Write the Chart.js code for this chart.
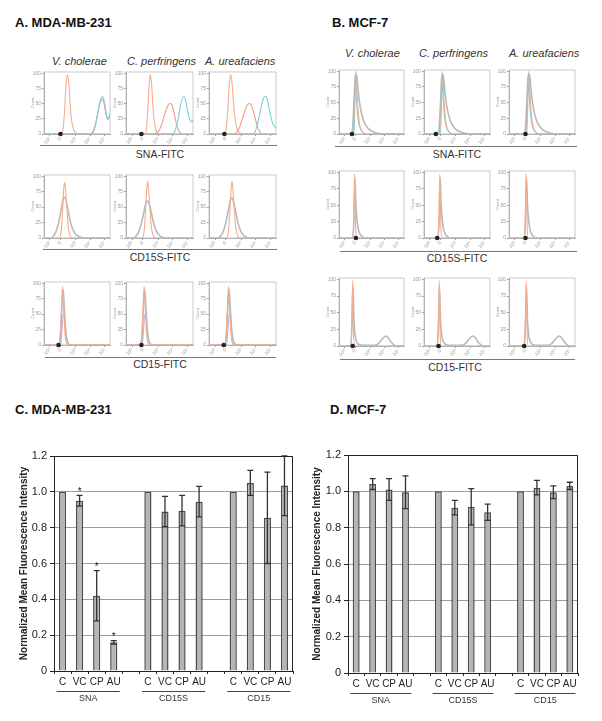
<!DOCTYPE html>
<html>
<head>
<meta charset="utf-8">
<script src="https://cdn.jsdelivr.net/npm/chart.js@4.4.1/dist/chart.umd.min.js"></script>
<style>
  html, body { margin: 0; padding: 0; background: #fff; }
  body { width: 602px; height: 721px; position: relative; overflow: hidden;
         font-family: "Liberation Sans", Arial, sans-serif; color: #222; }
  .abs { position: absolute; line-height: 1; white-space: nowrap; }
  .ttl { font-weight: bold; font-size: 13px; color: #111; }
  .sp { font-style: italic; font-size: 11px; color: #333; }
  .rl { font-size: 10.5px; color: #333; transform: translateX(-50%); }
  .hr { height: 0; border-top: 1.5px solid #777; }
  canvas { position: absolute; }
</style>
</head>
<body>
<div class="abs ttl" style="left:15px;top:16px">A. MDA-MB-231</div>
<div class="abs ttl" style="left:332px;top:16px">B. MCF-7</div>
<div class="abs ttl" style="left:15px;top:403px">C. MDA-MB-231</div>
<div class="abs ttl" style="left:330px;top:403px">D. MCF-7</div>

<div class="abs sp" style="left:52px;top:56px">V. cholerae</div>
<div class="abs sp" style="left:127px;top:56px">C. perfringens</div>
<div class="abs sp" style="left:205px;top:56px">A. ureafaciens</div>
<div class="abs sp" style="left:345px;top:48px">V. cholerae</div>
<div class="abs sp" style="left:419px;top:48px">C. perfringens</div>
<div class="abs sp" style="left:509px;top:48px">A. ureafaciens</div>

<div class="abs hr" style="left:40px;top:145px;width:237px"></div>
<div class="abs hr" style="left:43px;top:249px;width:234px"></div>
<div class="abs hr" style="left:45px;top:357px;width:231px"></div>
<div class="abs hr" style="left:335px;top:146px;width:242px"></div>
<div class="abs hr" style="left:340px;top:251px;width:237px"></div>
<div class="abs hr" style="left:340px;top:359px;width:235px"></div>

<div class="abs rl" style="left:160px;top:149px">SNA-FITC</div>
<div class="abs rl" style="left:160px;top:252px">CD15S-FITC</div>
<div class="abs rl" style="left:160px;top:359px">CD15-FITC</div>
<div class="abs rl" style="left:457px;top:149px">SNA-FITC</div>
<div class="abs rl" style="left:457px;top:253px">CD15S-FITC</div>
<div class="abs rl" style="left:455px;top:362px">CD15-FITC</div>

<script>
// ---- histogram axes (display position 0..100 of the biexponential axis) ----
const HIST_XTICKS = [9, 25, 48, 70, 92];
const HIST_XLABELS = ['-10³', '0', '10³', '10⁴', '10⁵'];
const HIST_YTICKS = [0, 0.25, 0.5, 0.75, 1];
const HIST_YLABELS = ['0', '25', '50', '75', '100'];

// ---- A. MDA-MB-231, SNA-FITC ----
const A_SNA_VC_ISO = [[0,0],[27,0],[29,0.1],[31,0.35],[33,0.75],[35,0.97],[37,0.9],[39,0.6],[41,0.3],[44,0.1],[48,0.02],[52,0],[100,0]];
const A_SNA_VC_TRT = [[0,0],[72,0],[76,0.07],[80,0.26],[84,0.48],[88,0.57],[91,0.5],[94,0.32],[97,0.24],[100,0.32]];
const A_SNA_VC_UNT = [[0,0],[70,0],[74,0.04],[78,0.15],[82,0.38],[86,0.58],[89,0.61],[92,0.5],[95,0.3],[97,0.24],[100,0.35]];
const A_SNA_CP_ISO = [[0,0],[29,0],[31,0.15],[33,0.5],[35,0.88],[36.5,0.98],[38,0.85],[40,0.5],[42,0.22],[45,0.06],[49,0],[100,0]];
const A_SNA_CP_TRT = [[0,0],[44,0],[48,0.04],[52,0.12],[56,0.26],[60,0.4],[64,0.49],[67,0.5],[70,0.43],[73,0.28],[76,0.13],[80,0.03],[84,0],[100,0]];
const A_SNA_CP_UNT = [[0,0],[70,0],[74,0.08],[78,0.26],[82,0.5],[86,0.62],[89,0.55],[92,0.38],[95,0.24],[98,0.2],[100,0.24]];
const A_SNA_AU_ISO = [[0,0],[24,0],[26,0.12],[28,0.4],[30,0.78],[32,0.98],[34,0.88],[36,0.6],[38,0.33],[41,0.12],[45,0.03],[50,0],[100,0]];
const A_SNA_AU_TRT = [[0,0],[38,0],[42,0.04],[46,0.12],[50,0.26],[54,0.4],[58,0.49],[61,0.5],[64,0.45],[68,0.3],[72,0.13],[76,0.03],[80,0],[100,0]];
const A_SNA_AU_UNT = [[0,0],[66,0],[70,0.07],[74,0.24],[78,0.45],[82,0.6],[85,0.62],[88,0.52],[92,0.3],[96,0.15],[100,0.1]];

// ---- A. MDA-MB-231, CD15S-FITC ----
const A_CD15S_VC_ISO = [[0,0],[23,0],[26,0.1],[28,0.4],[30,0.8],[31.5,0.9],[33,0.75],[35,0.42],[37,0.16],[40,0.03],[44,0],[100,0]];
const A_CD15S_VC_TRT = [[0,0],[10,0],[14,0.03],[18,0.1],[22,0.24],[26,0.46],[29,0.63],[31,0.66],[34,0.58],[37,0.42],[40,0.26],[44,0.13],[48,0.06],[54,0.02],[60,0],[100,0]];
const A_CD15S_CP_ISO = [[0,0],[24,0],[27,0.1],[29,0.4],[31,0.8],[32.5,0.92],[34,0.75],[36,0.42],[38,0.16],[41,0.03],[45,0],[100,0]];
const A_CD15S_CP_TRT = [[0,0],[11,0],[15,0.03],[19,0.1],[23,0.24],[27,0.44],[30,0.58],[32,0.6],[35,0.54],[38,0.4],[41,0.25],[45,0.12],[49,0.05],[55,0.01],[60,0],[100,0]];
const A_CD15S_AU_ISO = [[0,0],[26,0],[29,0.1],[31,0.4],[33,0.8],[34.5,0.92],[36,0.75],[38,0.42],[40,0.16],[43,0.03],[47,0],[100,0]];
const A_CD15S_AU_TRT = [[0,0],[13,0],[17,0.03],[21,0.1],[25,0.24],[29,0.46],[32,0.62],[34,0.65],[37,0.57],[40,0.42],[43,0.26],[47,0.12],[51,0.05],[57,0.01],[62,0],[100,0]];

// ---- A. MDA-MB-231, CD15-FITC ----
const A_CD15_VC_ISO = [[0,0],[22,0],[24,0.1],[26,0.5],[28,0.95],[30,0.55],[32,0.15],[34,0.03],[36,0],[100,0]];
const A_CD15_VC_TRT = [[0,0],[23,0],[25,0.15],[27,0.6],[29,0.9],[31,0.55],[33,0.22],[35,0.07],[38,0.01],[42,0],[100,0]];
const A_CD15_VC_UNT = [[0,0],[25,0],[27,0.2],[29,0.5],[31,0.45],[33,0.22],[35,0.08],[38,0.02],[42,0],[100,0]];
const A_CD15_CP_ISO = [[0,0],[21,0],[23,0.1],[25,0.5],[27,0.95],[29,0.55],[31,0.15],[33,0.03],[35,0],[100,0]];
const A_CD15_CP_TRT = [[0,0],[22,0],[24,0.15],[26,0.6],[28,0.9],[30,0.55],[32,0.22],[34,0.07],[37,0.01],[41,0],[100,0]];
const A_CD15_CP_UNT = [[0,0],[24,0],[26,0.2],[28,0.5],[30,0.45],[32,0.22],[34,0.08],[37,0.02],[41,0],[100,0]];
const A_CD15_AU_ISO = [[0,0],[23,0],[25,0.1],[27,0.5],[29,0.95],[31,0.55],[33,0.15],[35,0.03],[37,0],[100,0]];
const A_CD15_AU_TRT = [[0,0],[24,0],[26,0.15],[28,0.6],[30,0.9],[32,0.55],[34,0.22],[36,0.07],[39,0.01],[43,0],[100,0]];
const A_CD15_AU_UNT = [[0,0],[26,0],[28,0.2],[30,0.5],[32,0.45],[34,0.22],[36,0.08],[39,0.02],[43,0],[100,0]];

// ---- B. MCF-7, SNA-FITC ----
const B_SNA_VC_ISO = [[0,0],[21,0],[23,0.25],[25,0.8],[26.5,0.95],[28,0.6],[30,0.3],[32,0.14],[35,0.05],[39,0.01],[44,0],[100,0]];
const B_SNA_VC_TRT = [[0,0],[19,0],[21,0.1],[23,0.5],[25,0.92],[27,0.95],[29,0.75],[31,0.55],[34,0.36],[37,0.24],[40,0.16],[44,0.1],[48,0.06],[54,0.03],[60,0.01],[66,0],[100,0]];
const B_SNA_VC_UNT = [[0,0],[23,0],[24.5,0.5],[25.5,1.0],[26.5,0.7],[28,0.4],[30,0.2],[33,0.08],[37,0.02],[42,0],[100,0]];
const B_SNA_CP_ISO = [[0,0],[23,0],[25,0.25],[27,0.8],[28.5,0.95],[30,0.6],[32,0.3],[34,0.14],[37,0.05],[41,0.01],[46,0],[100,0]];
const B_SNA_CP_TRT = [[0,0],[21,0],[23,0.1],[25,0.5],[27,0.92],[29,0.95],[31,0.75],[33,0.55],[36,0.36],[39,0.24],[42,0.16],[46,0.1],[50,0.06],[56,0.03],[62,0.01],[68,0],[100,0]];
const B_SNA_CP_UNT = [[0,0],[25,0],[26.5,0.5],[27.5,1.0],[28.5,0.7],[30,0.4],[32,0.2],[35,0.08],[39,0.02],[44,0],[100,0]];
const B_SNA_AU_ISO = [[0,0],[25,0],[27,0.25],[29,0.8],[30.5,0.95],[32,0.6],[34,0.3],[36,0.14],[39,0.05],[43,0.01],[48,0],[100,0]];
const B_SNA_AU_TRT = [[0,0],[23,0],[25,0.1],[27,0.5],[29,0.92],[31,0.95],[33,0.75],[35,0.55],[38,0.36],[41,0.24],[44,0.16],[48,0.1],[52,0.06],[58,0.03],[64,0.01],[70,0],[100,0]];
const B_SNA_AU_UNT = [[0,0],[27,0],[28.5,0.5],[29.5,1.0],[30.5,0.7],[32,0.4],[34,0.2],[37,0.08],[41,0.02],[46,0],[100,0]];

// ---- B. MCF-7, CD15S-FITC ----
const B_CD15S_VC_ISO = [[0,0],[21,0],[22.5,0.2],[24,0.98],[25.5,0.2],[27,0],[100,0]];
const B_CD15S_VC_TRT = [[0,0],[21,0],[23,0.3],[24.5,0.92],[26,0.5],[28,0.25],[30,0.12],[33,0.05],[37,0.01],[40,0],[100,0]];
const B_CD15S_CP_ISO = [[0,0],[21,0],[22.5,0.2],[24,0.98],[25.5,0.2],[27,0],[100,0]];
const B_CD15S_CP_TRT = [[0,0],[21,0],[23,0.3],[24.5,0.92],[26,0.5],[28,0.25],[30,0.12],[33,0.05],[37,0.01],[40,0],[100,0]];
const B_CD15S_AU_ISO = [[0,0],[23,0],[24.5,0.2],[26,0.98],[27.5,0.2],[29,0],[100,0]];
const B_CD15S_AU_TRT = [[0,0],[23,0],[25,0.3],[26.5,0.92],[28,0.5],[30,0.25],[32,0.12],[35,0.05],[39,0.01],[42,0],[100,0]];

// ---- B. MCF-7, CD15-FITC ----
const B_CD15_VC_ISO = [[0,0],[18,0],[19.5,0.2],[21,0.98],[22.5,0.2],[24,0],[100,0]];
const B_CD15_VC_TRT = [[0,0],[18,0],[20,0.35],[21.5,0.9],[23,0.4],[25,0.15],[28,0.05],[32,0.02],[40,0.01],[50,0.01],[58,0.02],[62,0.05],[66,0.1],[70,0.14],[73,0.15],[76,0.12],[80,0.06],[84,0.02],[88,0],[100,0]];
const B_CD15_CP_ISO = [[0,0],[20,0],[21.5,0.2],[23,0.98],[24.5,0.2],[26,0],[100,0]];
const B_CD15_CP_TRT = [[0,0],[20,0],[22,0.35],[23.5,0.9],[25,0.4],[27,0.15],[30,0.05],[34,0.02],[42,0.01],[52,0.01],[60,0.02],[64,0.05],[68,0.1],[72,0.14],[75,0.15],[78,0.12],[82,0.06],[86,0.02],[90,0],[100,0]];
const B_CD15_AU_ISO = [[0,0],[23,0],[24.5,0.2],[26,0.98],[27.5,0.2],[29,0],[100,0]];
const B_CD15_AU_TRT = [[0,0],[23,0],[25,0.35],[26.5,0.9],[28,0.4],[30,0.15],[33,0.05],[37,0.02],[45,0.01],[55,0.01],[62,0.02],[66,0.05],[70,0.1],[74,0.14],[77,0.15],[80,0.12],[84,0.06],[88,0.02],[92,0],[100,0]];

// position of the "0" marker on each histogram axis
const A_ZERO = [[25, 23, 23], [null, null, null], [22, 23, 22]];
const B_ZERO = [[20, 18, 25], [26, 20, 25], [21, 22, 23]];

// ---- bar charts (C, D) ----
const BAR_LABELS = ['C', 'VC', 'CP', 'AU', '', 'C', 'VC', 'CP', 'AU', '', 'C', 'VC', 'CP', 'AU'];
const GROUP_NAMES = ['SNA', 'CD15S', 'CD15'];
const GROUP_SPANS = [[0, 3], [5, 8], [10, 13]];
const C_MEAN = [1, 0.95, 0.42, 0.16, null, 1, 0.89, 0.895, 0.945, null, 1, 1.05, 0.855, 1.035];
const C_ERR  = [0, 0.03, 0.14, 0.01, null, 0, 0.085, 0.085, 0.085, null, 0, 0.07, 0.255, 0.168];
const C_SIG  = [false, true, true, true, false, false, false, false, false, false, false, false, false, false];
const D_MEAN = [1, 1.04, 1.01, 0.995, null, 1, 0.91, 0.915, 0.885, null, 1, 1.02, 0.995, 1.03];
const D_ERR  = [0, 0.03, 0.06, 0.09, null, 0, 0.04, 0.1, 0.045, null, 0, 0.04, 0.035, 0.02];
const D_SIG  = [false, false, false, false, false, false, false, false, false, false, false, false, false, false];

// ---- layout ----
const A_COLS = [[44, 110], [126, 193], [209, 276]];
const A_ROWS = [[72, 134], [175, 238], [282, 345]];
const B_COLS = [[339, 404], [424, 490], [509, 575]];
const B_ROWS = [[70, 134], [171, 238], [278, 346]];

// first key is drawn on top
const A_GRID = [
  [{ unt: A_SNA_VC_UNT, iso: A_SNA_VC_ISO, sal: A_SNA_VC_TRT },
   { unt: A_SNA_CP_UNT, iso: A_SNA_CP_ISO, sal: A_SNA_CP_TRT },
   { unt: A_SNA_AU_UNT, iso: A_SNA_AU_ISO, sal: A_SNA_AU_TRT }],
  [{ iso: A_CD15S_VC_ISO, gray: A_CD15S_VC_TRT },
   { iso: A_CD15S_CP_ISO, gray: A_CD15S_CP_TRT },
   { iso: A_CD15S_AU_ISO, gray: A_CD15S_AU_TRT }],
  [{ iso: A_CD15_VC_ISO, gray: A_CD15_VC_TRT, lav: A_CD15_VC_UNT },
   { iso: A_CD15_CP_ISO, gray: A_CD15_CP_TRT, lav: A_CD15_CP_UNT },
   { iso: A_CD15_AU_ISO, gray: A_CD15_AU_TRT, lav: A_CD15_AU_UNT }]
];
const B_GRID = [
  [{ gray: B_SNA_VC_TRT, iso: B_SNA_VC_ISO, unt: B_SNA_VC_UNT },
   { gray: B_SNA_CP_TRT, iso: B_SNA_CP_ISO, unt: B_SNA_CP_UNT },
   { gray: B_SNA_AU_TRT, iso: B_SNA_AU_ISO, unt: B_SNA_AU_UNT }],
  [{ iso: B_CD15S_VC_ISO, gray: B_CD15S_VC_TRT },
   { iso: B_CD15S_CP_ISO, gray: B_CD15S_CP_TRT },
   { iso: B_CD15S_AU_ISO, gray: B_CD15S_AU_TRT }],
  [{ iso: B_CD15_VC_ISO, gray: B_CD15_VC_TRT },
   { iso: B_CD15_CP_ISO, gray: B_CD15_CP_TRT },
   { iso: B_CD15_AU_ISO, gray: B_CD15_AU_TRT }]
];

const HIST_COLORS = { iso: '#f5ad8c', sal: '#f29a8c', unt: '#79cfdb', gray: '#b9b9b9', lav: '#b9b3e0' };
const HIST_WIDTHS = { iso: 1.1, sal: 1.1, unt: 1.1, gray: 1.6, lav: 1.1 };

Chart.defaults.font.family = '"Liberation Sans", Arial, sans-serif';

const histFrame = {
  id: 'histFrame',
  beforeDatasetsDraw(chart) {
    const { ctx, chartArea: a } = chart;
    ctx.save();
    ctx.strokeStyle = '#bdbdbd';
    ctx.lineWidth = 0.8;
    ctx.strokeRect(a.left, a.top, a.right - a.left, a.bottom - a.top);
    ctx.restore();
  }
};

function drawHist(xr, yr, curves, zeroX) {
  const cv = document.createElement('canvas');
  cv.width = xr[1] - xr[0] + 18;
  cv.height = yr[1] - yr[0] + 14;
  cv.style.left = (xr[0] - 14) + 'px';
  cv.style.top = (yr[0] - 4) + 'px';
  document.body.appendChild(cv);

  const datasets = Object.keys(curves).map(k => ({
    data: curves[k], borderColor: HIST_COLORS[k], borderWidth: HIST_WIDTHS[k],
    pointRadius: 0, cubicInterpolationMode: 'monotone', fill: false
  }));
  if (zeroX != null) {
    datasets.unshift({ type: 'scatter', data: [{ x: zeroX, y: 0 }], pointRadius: 2.3,
      backgroundColor: '#222', borderWidth: 0, clip: false });
  }

  new Chart(cv, {
    type: 'line',
    data: { datasets },
    options: {
      responsive: false, animation: false, devicePixelRatio: 1,
      layout: { padding: { left: 0, top: 4, right: 4, bottom: 0 } },
      plugins: { legend: { display: false }, tooltip: { enabled: false } },
      scales: {
        x: {
          type: 'linear', min: 0, max: 100,
          afterFit: s => { s.height = 10; },
          afterBuildTicks: s => { s.ticks = HIST_XTICKS.map(v => ({ value: v })); },
          grid: { drawOnChartArea: false, tickLength: 2, color: '#999' },
          border: { color: '#aaa' },
          ticks: { font: { size: 5 }, color: '#999', padding: 0, maxRotation: 45, minRotation: 45,
                   autoSkip: false, callback: (v, i) => HIST_XLABELS[i] }
        },
        y: {
          min: 0, max: 1.02,
          afterFit: s => { s.width = 14; },
          afterBuildTicks: s => { s.ticks = HIST_YTICKS.map(v => ({ value: v })); },
          grid: { drawOnChartArea: false, tickLength: 2, color: '#999' },
          border: { color: '#aaa' },
          ticks: { font: { size: 5 }, color: '#999', padding: 1, autoSkip: false,
                   callback: (v, i) => HIST_YLABELS[i] },
          title: { display: true, text: 'Count', font: { size: 4 }, color: '#999', padding: 0 }
        }
      }
    },
    plugins: [histFrame]
  });
}

A_GRID.forEach((row, r) => row.forEach((c, k) => drawHist(A_COLS[k], A_ROWS[r], c, A_ZERO[r][k])));
B_GRID.forEach((row, r) => row.forEach((c, k) => drawHist(B_COLS[k], B_ROWS[r], c, B_ZERO[r][k])));

// ---- bar chart plugins ----
const errorBars = {
  id: 'errorBars',
  afterDatasetsDraw(chart, args, opts) {
    const { ctx, scales: { x, y } } = chart;
    const vals = chart.data.datasets[0].data;
    ctx.save();
    ctx.strokeStyle = '#333';
    ctx.fillStyle = '#222';
    ctx.lineWidth = 1.3;
    ctx.font = '10px "Liberation Sans", Arial, sans-serif';
    ctx.textAlign = 'center';
    ctx.textBaseline = 'bottom';
    opts.err.forEach((e, i) => {
      const m = vals[i];
      if (m == null) return;
      const px = x.getPixelForValue(i);
      const hi = Math.max(y.getPixelForValue(m + e), chart.chartArea.top);
      const lo = y.getPixelForValue(m - e);
      if (e > 0) {
        ctx.beginPath();
        ctx.moveTo(px, hi); ctx.lineTo(px, lo);
        ctx.moveTo(px - 3, hi); ctx.lineTo(px + 3, hi);
        ctx.moveTo(px - 3, lo); ctx.lineTo(px + 3, lo);
        ctx.stroke();
      }
      if (opts.sig[i]) ctx.fillText('*', px, hi + 2);
    });
    ctx.restore();
  }
};

const barFrame = {
  id: 'barFrame',
  afterDraw(chart) {
    const { ctx, chartArea: a } = chart;
    ctx.save();
    ctx.strokeStyle = '#222';
    ctx.lineWidth = 1;
    ctx.beginPath();
    ctx.moveTo(a.left, a.top + 0.5);
    ctx.lineTo(a.right - 0.5, a.top + 0.5);
    ctx.lineTo(a.right - 0.5, a.bottom);
    ctx.stroke();
    ctx.restore();
  }
};

// group underline and group name below the category labels
const groupLabels = {
  id: 'groupLabels',
  afterDraw(chart) {
    const { ctx, scales: { x } } = chart;
    const slot = x.getPixelForValue(1) - x.getPixelForValue(0);
    const yLine = x.bottom + 1.5;
    ctx.save();
    ctx.strokeStyle = '#444';
    ctx.fillStyle = '#333';
    ctx.lineWidth = 1.2;
    ctx.font = '9px "Liberation Sans", Arial, sans-serif';
    ctx.textAlign = 'center';
    ctx.textBaseline = 'top';
    GROUP_SPANS.forEach(([a, b], g) => {
      const x0 = x.getPixelForValue(a) - slot * 0.35;
      const x1 = x.getPixelForValue(b) + slot * 0.35;
      ctx.beginPath();
      ctx.moveTo(x0, yLine);
      ctx.lineTo(x1, yLine);
      ctx.stroke();
      ctx.fillText(GROUP_NAMES[g], (x.getPixelForValue(a) + x.getPixelForValue(b)) / 2, yLine + 2.5);
    });
    ctx.restore();
  }
};

function drawBars(left, width, pad, yw, means, errs, sig) {
  const cv = document.createElement('canvas');
  cv.width = width;
  cv.height = 281;
  cv.style.left = left + 'px';
  cv.style.top = '440px';
  document.body.appendChild(cv);

  new Chart(cv, {
    type: 'bar',
    data: {
      labels: BAR_LABELS,
      datasets: [{ data: means, backgroundColor: '#b5b5b5', borderColor: '#4a4a4a', borderWidth: 1.5,
                   barPercentage: 0.42, categoryPercentage: 1 }]
    },
    options: {
      responsive: false, animation: false, devicePixelRatio: 1,
      layout: { padding: pad },
      plugins: { legend: { display: false }, tooltip: { enabled: false }, errorBars: { err: errs, sig } },
      scales: {
        x: {
          afterFit: s => { s.height = 19; },
          grid: { drawOnChartArea: false, tickLength: 3, color: '#222' },
          border: { color: '#222' },
          ticks: { font: { size: 10 }, color: '#222', maxRotation: 0, autoSkip: false, padding: 2 }
        },
        y: {
          min: 0, max: 1.2,
          afterFit: s => { s.width = yw; },
          ticks: { stepSize: 0.2, font: { size: 11 }, color: '#222', padding: 3 },
          grid: { color: '#9d9d9d', tickLength: 4, tickColor: '#222' },
          border: { color: '#222' },
          title: { display: true, text: 'Normalized Mean Fluorescence Intensity',
                   font: { size: 10, weight: 'bold' }, color: '#222', padding: 0 }
        }
      }
    },
    plugins: [errorBars, barFrame, groupLabels]
  });
}

drawBars(0, 300, { left: 18, top: 16, right: 7, bottom: 31 }, 36, C_MEAN, C_ERR, C_SIG);
drawBars(300, 302, { left: 11, top: 15, right: 24, bottom: 29 }, 37, D_MEAN, D_ERR, D_SIG);
</script>
</body>
</html>
